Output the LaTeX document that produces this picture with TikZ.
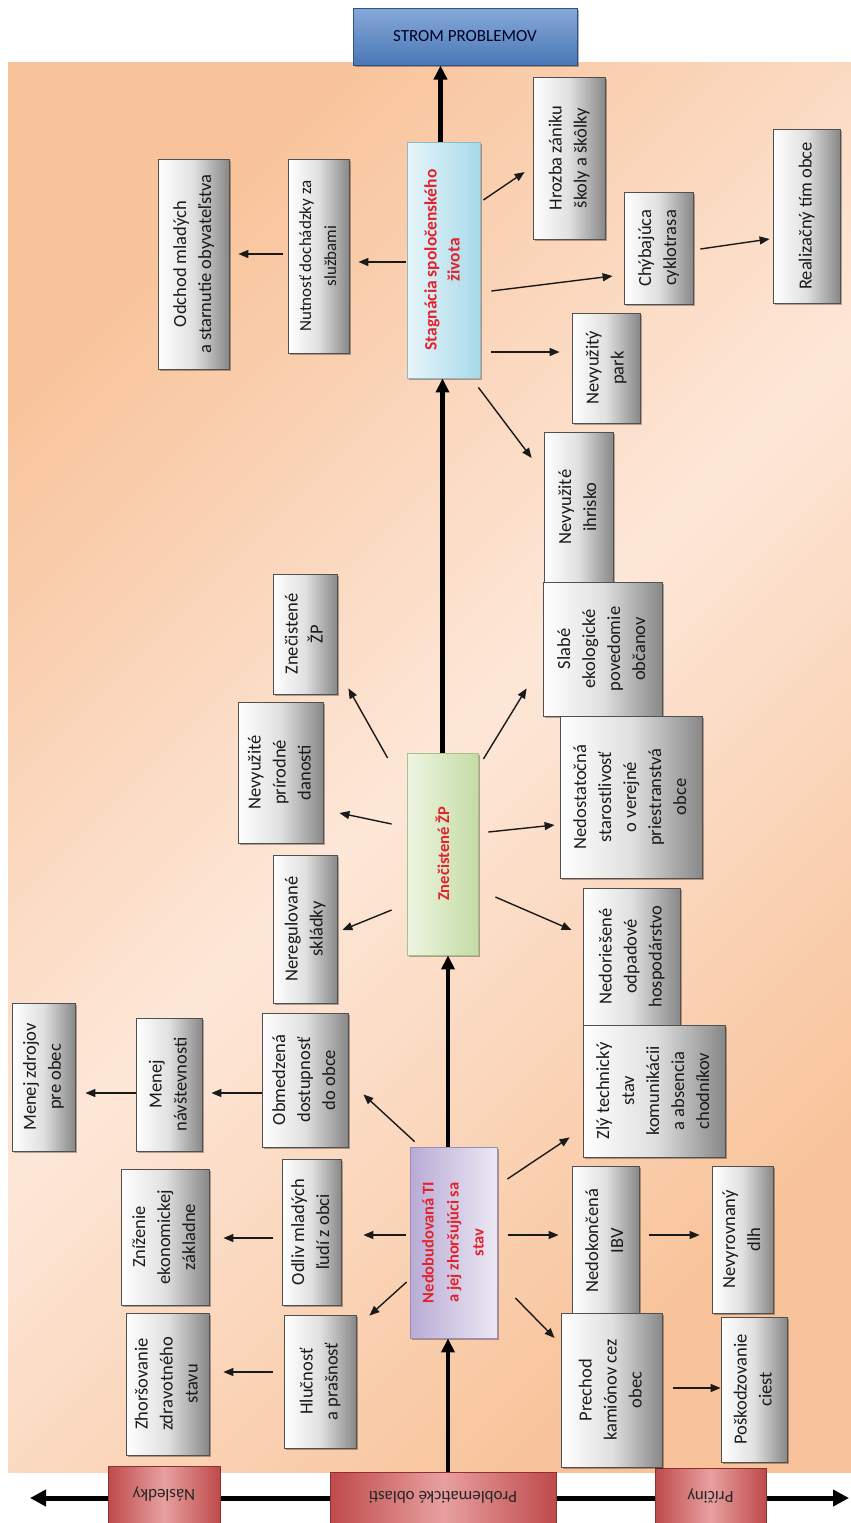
\documentclass[tikz,border=0pt]{standalone}
\usepackage{fontspec}
\setmainfont{Carlito}
\usepackage{graphicx}
\usetikzlibrary{arrows.meta,shadows}
\definecolor{bgO}{HTML}{F8C39A}
\definecolor{bgL}{HTML}{FDE7D8}
\definecolor{boxline}{HTML}{505050}
\definecolor{boxgray}{HTML}{888888}
\definecolor{boxmid}{HTML}{E0E0E0}
\definecolor{txt}{HTML}{1A1A1A}
\definecolor{redtxt}{HTML}{E3222C}
\definecolor{rb1}{HTML}{BF4A4B}
\definecolor{rb2}{HTML}{E8A0A0}
\definecolor{rbd}{HTML}{8E2F30}
\definecolor{blueA}{HTML}{86A9D9}
\definecolor{blueB}{HTML}{4A78B5}
\definecolor{blueD}{HTML}{2F5286}
\definecolor{cyanA}{HTML}{E8F6FA}
\definecolor{cyanB}{HTML}{A6D9E8}
\definecolor{cyanD}{HTML}{8DB9C8}
\definecolor{grnA}{HTML}{EEF5E3}
\definecolor{grnB}{HTML}{C4DCA4}
\definecolor{grnD}{HTML}{A8C08A}
\definecolor{purA}{HTML}{B9ABD5}
\definecolor{purB}{HTML}{ECE8F4}
\definecolor{purD}{HTML}{9A8DB8}
\tikzset{
  shad/.style={drop shadow={shadow xshift=2pt,shadow yshift=-2pt,fill=black,opacity=0.3}},
  gbx/.style={shad,draw=boxline,line width=0.8pt,left color=white,right color=boxgray,middle color=boxmid,
    inner sep=0pt,text=txt},
  mainbx/.style={shad,line width=0.8pt,inner sep=0pt,text=redtxt,font=\bfseries},
  rbx/.style={draw=rbd,line width=1pt,left color=rb1,right color=rb1,middle color=rb2,inner sep=0pt,
    text=black!85,font=\fontsize{17}{20}\selectfont},
  con/.style={draw=txt,line width=1.4pt,-{Triangle[length=10pt,width=8pt]}},
  trunk/.style={draw=black,line width=4.5pt,-{Triangle[length=14pt,width=13pt]}},
  axisline/.style={draw=black,line width=5pt,{Triangle[length=16pt,width=16pt]}-{Triangle[length=16pt,width=16pt]}}
}
\newcommand\gbox[6]{\node[gbx,minimum width=#3pt,minimum height=#4pt,font=\fontsize{#5}{25}\selectfont] (#1) at (#2)
  {\rotatebox{90}{\begin{tabular}{@{}c@{}}#6\end{tabular}}};}
\begin{document}
\begin{tikzpicture}[x=1pt,y=-1pt]
\useasboundingbox (0,0) rectangle (851,1523);
% background
\shade[left color=bgO,right color=bgO,middle color=bgL,shading angle=45] (8,62) rectangle (851,1472);
% bottom axis
\coordinate (axL) at (30,1498);
\coordinate (axR) at (849,1498);
\draw[axisline] (axL) -- (axR);
\node[rbx,minimum width=112pt,minimum height=57pt] (nasl) at (164,1494.5) {\rotatebox{180}{Následky}};
\node[rbx,minimum width=226pt,minimum height=51pt] (prob) at (443,1497.5) {\rotatebox{180}{Problematické oblasti}};
\node[rbx,minimum width=111pt,minimum height=55pt] (pric) at (710.5,1495.5) {\rotatebox{180}{Príčiny}};
% title
\node[shad,draw=blueD,line width=1pt,top color=blueA,bottom color=blueB,minimum width=224pt,minimum height=57pt,
  inner sep=0pt,font=\fontsize{17}{20}\selectfont,text=black!85!blue] (strom) at (465,36.5) {STROM PROBLEMOV};
% main boxes
\node[mainbx,draw=cyanD,left color=cyanA,right color=cyanB,minimum width=73pt,minimum height=236pt,
  font=\fontsize{17.5}{23}\selectfont\bfseries] (stag) at (443.5,260)
  {\rotatebox{90}{\begin{tabular}{@{}c@{}}Stagnácia spoločenského\\života\end{tabular}}};
\node[mainbx,draw=grnD,left color=grnA,right color=grnB,minimum width=71pt,minimum height=202pt,
  font=\fontsize{16.5}{23}\selectfont\bfseries] (znec) at (442.5,854)
  {\rotatebox{90}{Znečistené ŽP}};
\node[mainbx,draw=purD,left color=purA,right color=purB,minimum width=87pt,minimum height=191pt,
  font=\fontsize{16.5}{25}\selectfont\bfseries] (nedo) at (453.5,1242.5)
  {\rotatebox{90}{\begin{tabular}{@{}c@{}}Nedobudovaná TI\\a jej zhoršujúci sa\\stav\end{tabular}}};
% trunk
\draw[trunk] ([xshift=5pt]prob.north) -- ([xshift=-5.5pt]nedo.south);
\draw[trunk] ([xshift=-5.5pt]nedo.north) -- ([xshift=5.5pt]znec.south);
\draw[trunk] (znec.north) -- (znec.north |- stag.south);
\draw[trunk] ([xshift=-3pt]stag.north) -- ([xshift=-3pt]stag.north |- strom.south);
% gray boxes - top
\gbox{odchod}{193.5,264}{71}{210}{18.5}{Odchod mladých\\a starnutie obyvateľstva}
\gbox{nutnost}{318.5,256}{61}{194}{17}{Nutnosť dochádzky za\\službami}
\gbox{hrozba}{569,158}{72}{162}{18.5}{Hrozba zániku\\školy a škôlky}
\gbox{chyb}{658.5,248}{69}{112}{18.5}{Chýbajúca\\cyklotrasa}
\gbox{realiz}{806.5,216}{67}{174}{18.5}{Realizačný tím obce}
\gbox{park}{606,368}{68}{110}{18.5}{Nevyužitý\\park}
\gbox{ihrisko}{578.5,507}{69}{150}{18.5}{Nevyužité\\ihrisko}
% middle
\gbox{zpgray}{305,634}{64}{120}{18.5}{Znečistené\\ŽP}
\gbox{prirod}{280.5,772.5}{85}{141}{18.5}{Nevyužité\\prírodné\\danosti}
\gbox{skladky}{305,929}{64}{148}{18.5}{Neregulované\\skládky}
\gbox{slabe}{602.5,649}{119}{134}{18.5}{Slabé\\ekologické\\povedomie\\občanov}
\gbox{nedost}{631,797}{142}{162}{18.5}{Nedostatočná\\starostlivosť\\o verejné\\priestranstvá\\obce}
\gbox{odpad}{631.5,956.5}{97}{137}{18.5}{Nedoriešené\\odpadové\\hospodárstvo}
\gbox{zly}{654,1091}{142}{132}{18.5}{Zlý technický\\stav\\komunikácii\\a absencia\\chodníkov}
% lower
\gbox{obmedz}{305,1080}{86}{134}{18.5}{Obmedzená\\dostupnosť\\do obce}
\gbox{navst}{169,1084.5}{66}{133}{18.5}{Menej\\návštevnosti}
\gbox{zdroj}{43.5,1077}{63}{148}{18.5}{Menej zdrojov\\pre obec}
\gbox{odliv}{311.5,1232}{59}{146}{18.5}{Odliv mladých\\ľudí z obci}
\gbox{znizenie}{165,1237}{88}{136}{18.5}{Zníženie\\ekonomickej\\základne}
\gbox{hlucnost}{320,1381.5}{72}{133}{18.5}{Hlučnosť\\a prašnosť}
\gbox{zhorsov}{167.5,1384}{83}{142}{18.5}{Zhoršovanie\\zdravotného\\stavu}
\gbox{nedokon}{605.5,1240.5}{67}{149}{18.5}{Nedokončená\\IBV}
\gbox{dlh}{742.5,1239.5}{61}{147}{18.5}{Nevyrovnaný\\dlh}
\gbox{prechod}{611.5,1390}{101}{154}{18.5}{Prechod\\kamiónov cez\\obec}
\gbox{poskod}{754,1389.5}{66}{145}{18.5}{Poškodzovanie\\ciest}
% connectors - top
\draw[con] ([shift={(-1,2)}]stag.west) -- ([shift={(9,6)}]nutnost.east);
\draw[con] ([shift={(-5,-2)}]nutnost.west) -- ([shift={(9,-10)}]odchod.east);
\draw[con] ([shift={(3,-60)}]stag.east) -- ([shift={(-8,14)}]hrozba.west);
\draw[con] ([shift={(11,31)}]stag.east) -- ([shift={(-11,28)}]chyb.west);
\draw[con] ([shift={(7,1)}]chyb.east) -- ([shift={(-3,23)}]realiz.west);
\draw[con] ([shift={(11,92)}]stag.east) -- ([shift={(-12,-16)}]park.west);
\draw[con] ([shift={(-2,9)}]stag.south east) -- ([shift={(-12,-49)}]ihrisko.west);
% connectors - middle
\draw[con] ([shift={(-19,-96)}]znec.west) -- ([shift={(11,-6)}]zpgray.south east);
\draw[con] ([shift={(-15,-30)}]znec.west) -- ([shift={(16,40.5)}]prirod.east);
\draw[con] ([shift={(-15,56)}]znec.west) -- ([shift={(5,1)}]skladky.east);
\draw[con] ([shift={(5,-95)}]znec.east) -- ([shift={(-16,-28)}]slabe.south west);
\draw[con] ([shift={(10,-22)}]znec.east) -- ([shift={(-5,28)}]nedost.west);
\draw[con] ([shift={(17,43)}]znec.east) -- ([shift={(-11,-26.5)}]odpad.west);
% connectors - lower
\draw[con] ([shift={(5,-5)}]nedo.north west) -- ([shift={(15,-53)}]obmedz.south east);
\draw[con] ([shift={(0,13)}]obmedz.west) -- ([shift={(9,8.5)}]navst.east);
\draw[con] ([shift={(0,8.5)}]navst.west) -- ([shift={(10,16)}]zdroj.east);
\draw[con] ([shift={(-4,-7.5)}]nedo.west) -- ([shift={(22,3)}]odliv.east);
\draw[con] ([shift={(-9,6)}]odliv.west) -- ([shift={(14,1)}]znizenie.east);
\draw[con] ([shift={(-3,39.5)}]nedo.west) -- ([shift={(13,1)}]hlucnost.north east);
\draw[con] ([shift={(-11,-9.5)}]hlucnost.west) -- ([shift={(14,-12)}]zhorsov.east);
\draw[con] ([shift={(10,-63.5)}]nedo.east) -- ([shift={(-13,-20)}]zly.south west);
\draw[con] ([shift={(11,-7.5)}]nedo.east) -- ([shift={(-13,-5.5)}]nedokon.west);
\draw[con] ([shift={(10,-5.5)}]nedokon.east) -- ([shift={(-12,-4.5)}]dlh.west);
\draw[con] ([shift={(18,55.5)}]nedo.east) -- ([shift={(-6,-52)}]prechod.west);
\draw[con] ([shift={(11,-2)}]prechod.east) -- ([shift={(0,-1.5)}]poskod.west);
\end{tikzpicture}
\end{document}
